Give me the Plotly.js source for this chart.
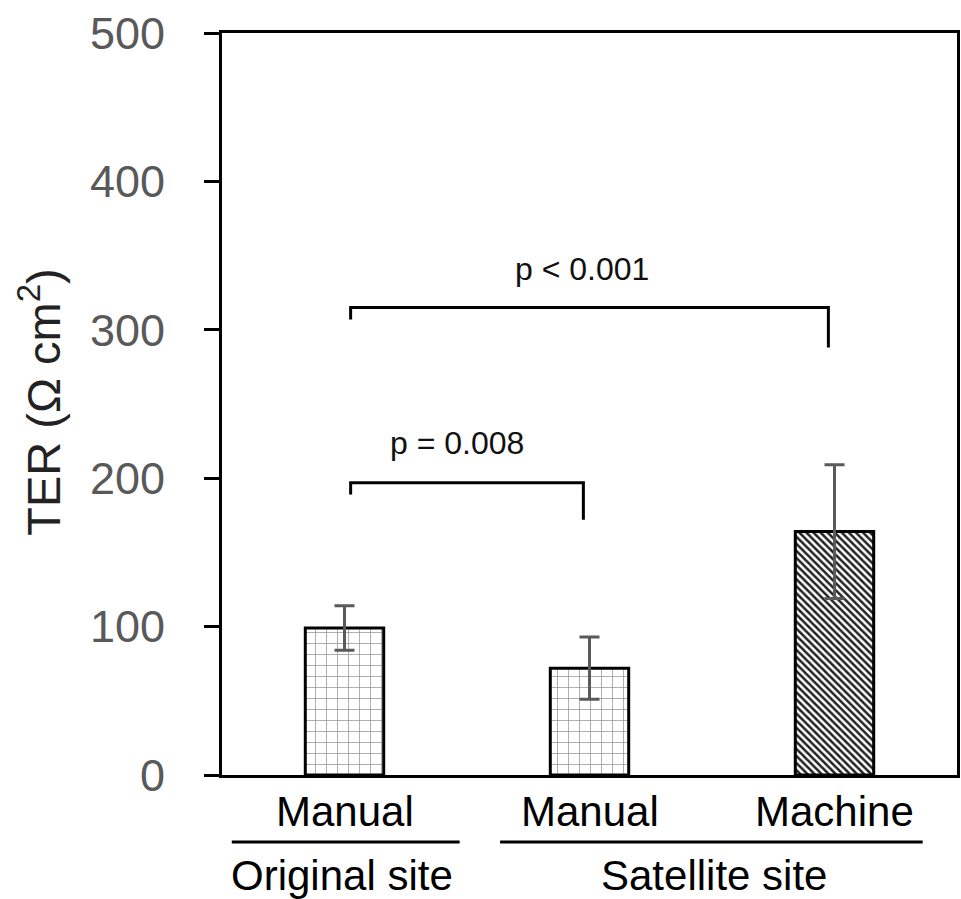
<!DOCTYPE html>
<html>
<head>
<meta charset="utf-8">
<script src="https://cdn.plot.ly/plotly-3.0.1.min.js"></script>
<style>body{margin:0;background:#fff;}</style>
</head>
<body>
<div id="chart" style="width:961px;height:899px;"></div>
<script>
// ---- data ----
var barLabels = ['Manual', 'Manual', 'Machine'];
var groupLabels = ['Original site', 'Satellite site'];
var terMean = [99, 72, 164];
var terErr = [15, 21, 45];
var yTickVals = [0, 100, 200, 300, 400, 500];
var pLabels = ['p = 0.008', 'p < 0.001'];
var compFrom = [0, 0];
var compTo = [1, 2];
var compBracketY = [197, 315];
var compLeftEnd = [189, 307];
var compRightEnd = [172, 288];

var xPos = barLabels.map(function (_, i) { return i; });

var trace = {
  type: 'bar',
  x: xPos,
  y: terMean,
  width: 0.32,
  marker: {
    color: 'white',
    line: { color: 'black', width: 3 },
    pattern: {
      shape: ['+', '+', '\\'],
      fgcolor: ['#8a8a8a', '#8a8a8a', '#222222'],
      bgcolor: 'white',
      size: [11, 11, 5],
      solidity: [0.12, 0.12, 0.5]
    }
  },
  error_y: {
    type: 'data',
    array: terErr,
    visible: true,
    color: '#5a5a5a',
    thickness: 3,
    width: 10
  },
  hoverinfo: 'skip'
};

var shapes = [];
var annotations = [];

// comparison brackets
for (var i = 0; i < pLabels.length; i++) {
  var x0 = compFrom[i] + 0.025, x1 = compTo[i] - 0.025;
  shapes.push({
    type: 'path', xref: 'x', yref: 'y',
    path: 'M ' + x0 + ',' + compLeftEnd[i] + ' L ' + x0 + ',' + compBracketY[i] +
          ' L ' + x1 + ',' + compBracketY[i] + ' L ' + x1 + ',' + compRightEnd[i],
    line: { color: 'black', width: 3 }
  });
}
annotations.push({ xref: 'x', yref: 'y', x: 0.46, y: 224, text: pLabels[0], showarrow: false,
  font: { family: 'Liberation Sans, Arial', size: 32, color: '#111' }, xanchor: 'center', yanchor: 'middle' });
annotations.push({ xref: 'x', yref: 'y', x: 0.97, y: 341, text: pLabels[1], showarrow: false,
  font: { family: 'Liberation Sans, Arial', size: 32, color: '#111' }, xanchor: 'center', yanchor: 'middle' });

// category labels
barLabels.forEach(function (lab, i) {
  annotations.push({ xref: 'x', yref: 'paper', x: xPos[i], y: -0.049, text: lab, showarrow: false,
    font: { family: 'Liberation Sans, Arial', size: 42, color: '#000' }, xanchor: 'center', yanchor: 'middle' });
});
// group underlines & labels
var groupSpans = [[-0.46, 0.47], [0.635, 2.36]];
var groupCenters = [-0.01, 1.51];
groupLabels.forEach(function (lab, i) {
  shapes.push({ type: 'line', xref: 'x', yref: 'paper', x0: groupSpans[i][0], x1: groupSpans[i][1],
    y0: -0.0903, y1: -0.0903, line: { color: 'black', width: 3 } });
  annotations.push({ xref: 'x', yref: 'paper', x: groupCenters[i], y: -0.136, text: lab, showarrow: false,
    font: { family: 'Liberation Sans, Arial', size: 42, color: '#000' }, xanchor: 'center', yanchor: 'middle' });
});

// y-axis title
annotations.push({ xref: 'paper', yref: 'paper', x: -0.2476, y: 0.503, text: 'TER (Ω cm<sup>2</sup>)',
  textangle: -90, showarrow: false, xanchor: 'center', yanchor: 'middle',
  font: { family: 'Liberation Sans, Arial', size: 47, color: '#222' } });

var layout = {
  width: 961, height: 899,
  margin: { l: 222, r: 4, t: 33, b: 124 },
  paper_bgcolor: 'white', plot_bgcolor: 'white',
  showlegend: false,
  xaxis: {
    range: [-0.5, 2.5], showticklabels: false, ticks: '', showgrid: false, zeroline: false,
    showline: true, linecolor: 'black', linewidth: 3, mirror: true, fixedrange: true
  },
  yaxis: {
    range: [0, 500], tickvals: yTickVals, ticks: 'outside', ticklen: 15, tickwidth: 3, tickcolor: 'black',
    showgrid: false, zeroline: false, showline: true, linecolor: 'black', linewidth: 3, mirror: true,
    ticklabelstandoff: 30,
    tickfont: { family: 'Liberation Sans, Arial', size: 45, color: '#595959' }, fixedrange: true
  },
  shapes: shapes,
  annotations: annotations
};

Plotly.newPlot('chart', [trace], layout, { staticPlot: true });
</script>
</body>
</html>
